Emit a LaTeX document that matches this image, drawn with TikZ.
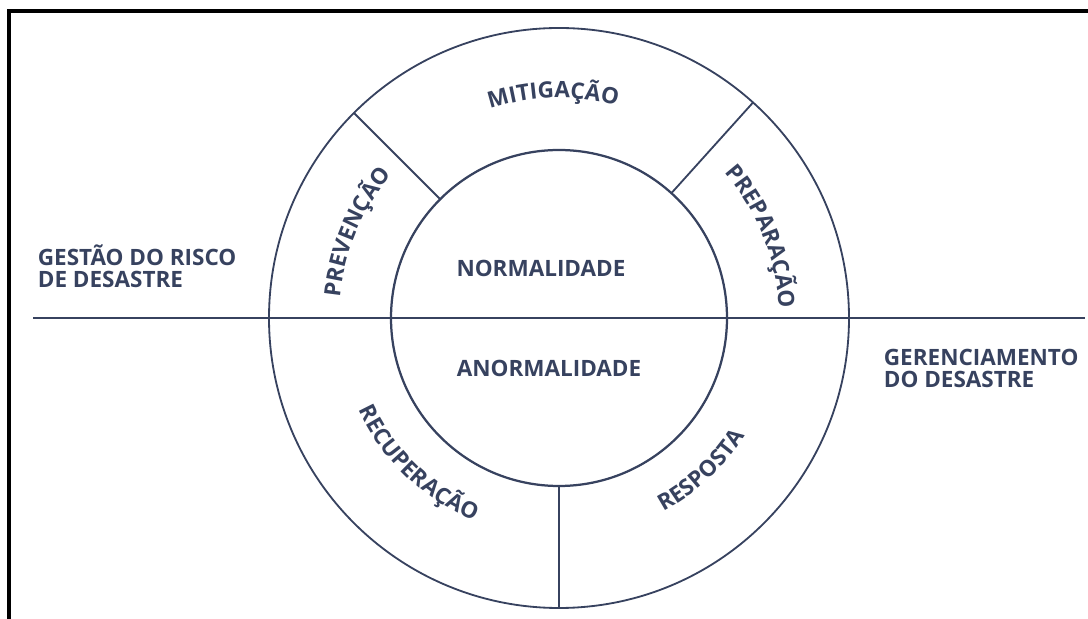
\documentclass[tikz,border=0pt]{standalone}
\usepackage{fontspec}
\setmainfont{Open Sans}
\usetikzlibrary{decorations.text}
\definecolor{ink}{RGB}{55,66,95}
\newcommand{\lblfont}{\bfseries\fontsize{16}{15.5}\selectfont}

\begin{document}
\begin{tikzpicture}[x=0.025cm,y=0.025cm]
\tikzstyle{every path}=[line width=1.3pt]

\edef\rout{290}
\edef\rin{168}
\edef\rtxt{220}
\tikzstyle{phase}=[text=ink,font=\lblfont,inner sep=0pt]
\tikzstyle{arclbl}=[decorate,decoration={text along path,text align=center,
  text color=ink}]

\useasboundingbox (0,0) rectangle (1088,619);
%% frame (only the top and left edges show)
\draw[black,line width=2.2pt] (9,0) -- (9,608) -- (1088,608);

%% rings
\coordinate (c) at (559,301);
\draw[ink] (c) circle[radius=\rout];
\draw[ink,line width=1.6pt] (c) circle[radius=\rin];
\draw[ink] (33,301) -- (1085,301);
\foreach \a in {135,48,270}
  \draw[ink] (c) ++(\a:\rin) -- ++(\a:122);

%% phases along the ring
\path[arclbl,decoration={text={|\lblfont|MITIGAÇÃO}}]
  (c) ++(136.5:\rtxt) arc[start angle=136.5,end angle=46.5,radius=\rtxt];
\path[arclbl,decoration={text={|\lblfont|PREVENÇÃO}}]
  (c) ++(202:\rtxt) arc[start angle=202,end angle=112,radius=\rtxt];
\path[arclbl,decoration={text={|\lblfont|PREPARAÇÃO}}]
  (c) ++(67:\rtxt) arc[start angle=67,end angle=-23,radius=\rtxt];
\path[arclbl,decoration={text={|\lblfont|RECUPERAÇÃO}}]
  (c) ++(181:\rtxt) arc[start angle=181,end angle=271,radius=\rtxt];
\path[arclbl,decoration={text={|\lblfont|RESPOSTA}}]
  (c) ++(268:\rtxt) arc[start angle=268,end angle=358,radius=\rtxt];

%% inner states
\node [phase] (normal) at (541,351) {NORMALIDADE};
\node [phase] (abnormal) at (549,251) {ANORMALIDADE};

%% side labels
\node [phase,align=left,anchor=north west] (gestao) at (37,375)
  {GESTÃO DO RISCO\\DE DESASTRE};
\node [phase,align=left,anchor=north west] (gerenc) at (883,271)
  {GERENCIAMENTO\\DO DESASTRE};
\end{tikzpicture}
\end{document}
